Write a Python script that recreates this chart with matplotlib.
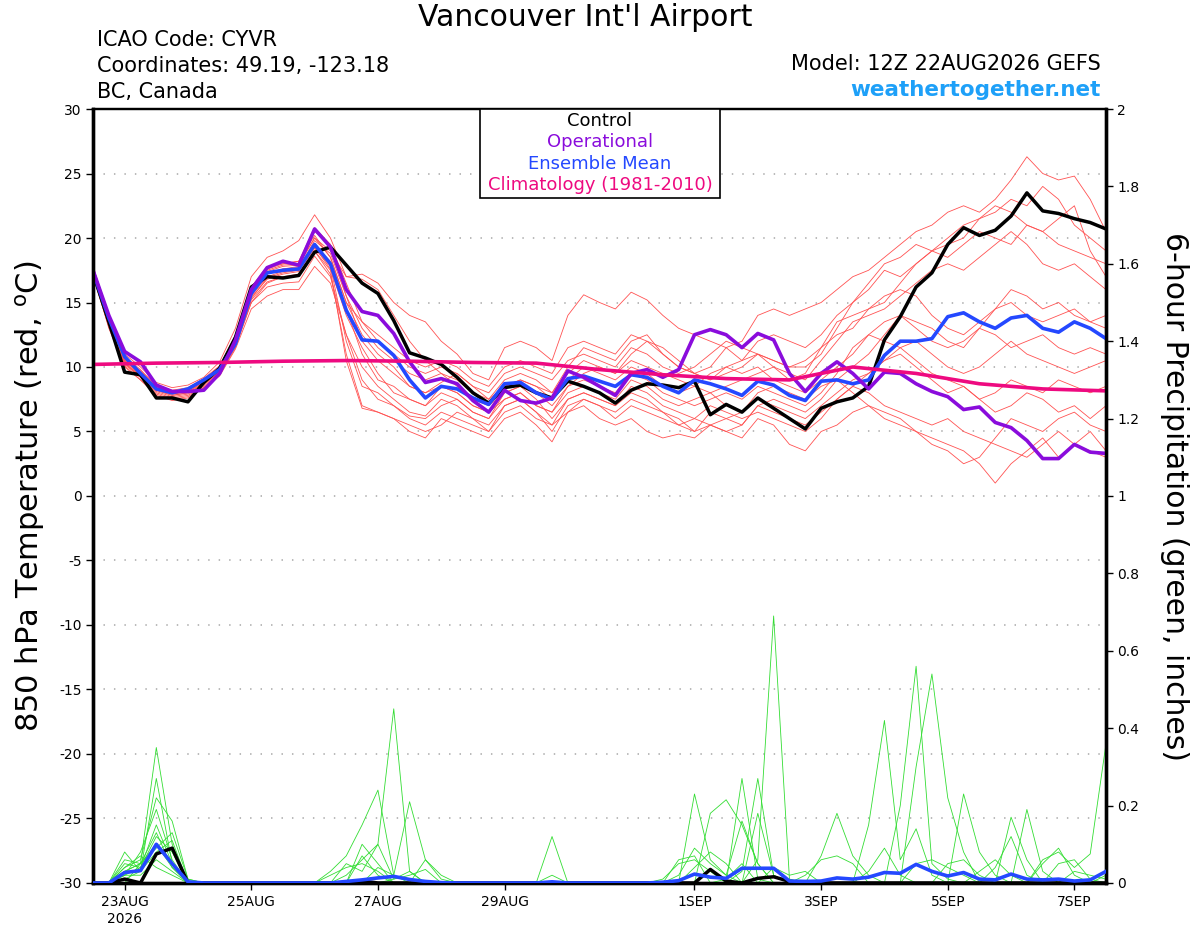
import numpy as np
import matplotlib
matplotlib.use('Agg')
import matplotlib.pyplot as plt
from matplotlib.patches import Rectangle

plt.rcParams['axes.unicode_minus'] = False

# forecast hours from 12Z 22AUG2026, every 6 hours out to 384 h
fhour = np.arange(0, 385, 6)

# 850 hPa temperature (C)
control_t = [17.3, 13.5, 9.6, 9.4, 7.6, 7.6, 7.3, 8.8, 9.9, 12.3, 16.2, 17.0, 16.9,
             17.1, 18.9, 19.3, 17.9, 16.5, 15.7, 13.6, 11.1, 10.7, 10.2, 9.2, 8.0, 7.2,
             8.4, 8.6, 8.0, 7.6, 8.9, 8.5, 8.0, 7.2, 8.2, 8.7, 8.6, 8.4, 8.9,
             6.3, 7.1, 6.5, 7.6, 6.8, 6.0, 5.2, 6.8, 7.3, 7.6, 8.5, 12.1, 13.9,
             16.2, 17.3, 19.5, 20.8, 20.2, 20.6, 21.7, 23.5, 22.1, 21.9, 21.5, 21.2, 20.7]
operational_t = [17.5, 14.0, 11.2, 10.4, 8.6, 8.1, 8.1, 8.2, 9.5, 12.1, 16.0, 17.7, 18.2,
                 17.9, 20.7, 19.3, 16.0, 14.3, 14.0, 12.6, 10.4, 8.8, 9.1, 8.7, 7.4, 6.5,
                 8.2, 7.4, 7.2, 7.6, 9.7, 9.2, 8.5, 7.8, 9.5, 9.8, 9.2, 9.8, 12.5,
                 12.9, 12.5, 11.5, 12.6, 12.1, 9.5, 8.1, 9.5, 10.4, 9.5, 8.3, 9.6, 9.5,
                 8.7, 8.1, 7.7, 6.7, 6.9, 5.7, 5.3, 4.3, 2.9, 2.9, 4.0, 3.4, 3.3]
ens_mean_t = [17.4, 13.8, 10.8, 9.5, 8.3, 8.0, 8.3, 9.0, 9.8, 11.8, 15.7, 17.3, 17.5,
              17.6, 19.5, 18.0, 14.4, 12.1, 12.0, 10.9, 9.0, 7.6, 8.5, 8.3, 7.6, 7.1,
              8.7, 8.8, 8.0, 7.5, 9.1, 9.3, 8.9, 8.5, 9.4, 9.2, 8.5, 8.0, 9.0,
              8.7, 8.3, 7.8, 8.9, 8.6, 7.8, 7.4, 8.9, 9.0, 8.7, 9.0, 10.9, 12.0,
              12.0, 12.2, 13.9, 14.2, 13.5, 13.0, 13.8, 14.0, 13.0, 12.7, 13.5, 13.0, 12.2]

# climatology, one value per day
clim_hour = np.arange(0, 385, 24)
clim_t = [10.2, 10.3, 10.35, 10.45, 10.5, 10.45, 10.35, 10.3, 9.8,
          9.4, 9.1, 9.0, 10.0, 9.5, 8.7, 8.3, 8.15]

# ensemble members, temperature
m01 = [17.8, 14.0, 11.0, 10.0, 8.8, 8.4, 8.6, 9.2, 10.4, 13.0, 17.0, 18.5, 19.0,
       19.8, 21.8, 20.0, 17.0, 17.2, 16.5, 15.0, 14.0, 13.5, 12.0, 11.0, 9.5, 9.0,
       11.5, 12.0, 11.5, 10.5, 14.0, 15.6, 15.0, 14.5, 15.8, 15.2, 14.0, 13.0, 12.5,
       12.0, 11.5, 12.0, 14.0, 14.5, 14.0, 14.5, 15.0, 16.0, 17.0, 17.5, 18.5, 19.5,
       20.5, 21.0, 22.0, 22.5, 22.0, 23.0, 24.5, 26.3, 25.0, 24.5, 24.8, 23.0, 20.5]
m02 = [17.2, 13.0, 10.0, 9.0, 7.8, 7.4, 7.6, 8.4, 9.4, 11.5, 15.0, 16.5, 17.0,
       17.0, 19.0, 17.5, 10.5, 6.8, 6.5, 6.0, 5.0, 4.5, 6.0, 5.5, 5.0, 4.5,
       6.0, 6.5, 5.5, 4.2, 6.5, 7.0, 6.0, 5.5, 6.0, 5.0, 4.5, 4.8, 4.5,
       5.5, 5.0, 4.5, 6.0, 5.5, 4.0, 3.5, 5.0, 5.5, 6.5, 7.0, 6.0, 5.5,
       5.0, 4.5, 4.0, 3.5, 2.5, 1.0, 2.5, 3.5, 4.5, 3.0, 4.0, 5.0, 3.5]
m03 = [17.5, 13.8, 10.8, 9.8, 8.5, 8.0, 8.3, 9.0, 10.0, 12.5, 16.2, 17.8, 18.0,
       18.2, 20.2, 18.5, 15.0, 12.5, 11.0, 10.0, 8.5, 8.0, 8.8, 9.5, 8.5, 7.5,
       9.0, 9.5, 9.0, 8.0, 10.0, 11.5, 11.0, 10.5, 12.0, 12.5, 11.0, 10.0, 9.5,
       10.0, 11.5, 10.5, 11.0, 10.0, 9.0, 9.5, 11.5, 13.5, 14.0, 14.5, 15.0, 16.5,
       18.0, 19.0, 20.0, 21.0, 21.5, 22.5, 22.0, 21.0, 20.5, 21.5, 22.5, 19.0, 17.0]
m04 = [17.3, 13.5, 10.4, 9.3, 8.2, 7.8, 8.0, 8.7, 9.6, 11.8, 15.4, 16.8, 17.2,
       17.4, 19.2, 17.8, 12.0, 8.5, 8.0, 7.0, 6.2, 6.0, 7.0, 7.5, 6.5, 6.0,
       7.5, 8.0, 7.0, 6.5, 8.0, 8.5, 8.0, 7.5, 9.0, 8.5, 7.5, 7.0, 7.5,
       8.0, 7.0, 6.5, 7.5, 7.0, 6.5, 6.0, 7.0, 8.0, 9.0, 9.5, 10.5, 11.0,
       10.0, 9.0, 8.0, 8.5, 7.5, 6.5, 7.0, 8.0, 7.5, 6.5, 7.0, 6.0, 7.0]
m05 = [17.6, 13.7, 10.6, 9.6, 8.4, 8.1, 8.2, 8.9, 9.9, 12.2, 15.8, 17.4, 17.8,
       17.9, 20.0, 19.0, 17.0, 16.8, 16.0, 14.0, 12.0, 10.5, 9.5, 9.0, 8.0, 7.5,
       8.5, 9.0, 8.5, 8.0, 9.5, 10.5, 10.0, 9.5, 11.0, 12.0, 11.5, 10.5, 9.5,
       9.0, 9.5, 10.0, 11.0, 10.5, 10.0, 10.0, 11.0, 13.0, 15.0, 16.0, 17.5, 17.0,
       18.0, 19.0, 19.5, 20.0, 21.5, 22.0, 23.0, 22.5, 24.0, 23.0, 21.0, 20.0, 19.0]
m06 = [17.0, 13.2, 10.2, 9.2, 8.0, 7.6, 7.8, 8.5, 9.5, 11.6, 15.2, 16.6, 17.0,
       17.2, 19.0, 17.2, 11.0, 7.0, 6.5, 6.0, 5.5, 5.0, 5.5, 6.5, 6.0, 5.0,
       7.0, 7.5, 6.5, 5.5, 7.5, 8.0, 7.5, 7.0, 8.0, 7.5, 6.5, 6.0, 5.0,
       6.5, 6.0, 5.5, 7.0, 6.5, 6.0, 5.5, 6.5, 7.5, 8.5, 8.0, 7.0, 6.5,
       6.0, 5.5, 6.0, 5.0, 4.5, 4.0, 3.5, 3.0, 4.0, 5.0, 4.0, 3.5, 3.0]
m07 = [17.4, 13.6, 10.5, 9.5, 8.3, 7.9, 8.1, 8.8, 9.8, 12.0, 15.6, 17.2, 17.6,
       17.7, 19.8, 18.8, 15.5, 13.0, 11.5, 10.5, 9.5, 9.0, 9.5, 8.5, 7.5, 7.0,
       8.0, 8.5, 8.0, 7.0, 8.5, 9.5, 10.0, 9.5, 10.5, 10.0, 9.5, 9.0, 8.5,
       8.0, 8.5, 9.0, 9.5, 10.0, 9.5, 9.0, 10.5, 12.0, 13.5, 14.0, 14.5, 15.5,
       16.5, 17.5, 18.0, 17.5, 18.5, 19.5, 20.5, 19.5, 18.0, 17.5, 18.0, 17.0, 16.0]
m08 = [17.2, 13.3, 10.3, 9.2, 8.1, 7.7, 7.9, 8.6, 9.6, 11.7, 15.0, 16.2, 16.5,
       16.6, 18.6, 17.0, 12.5, 10.0, 8.5, 7.5, 6.5, 6.2, 7.5, 7.0, 6.0, 5.5,
       7.0, 7.5, 6.5, 5.0, 7.0, 7.5, 7.0, 6.5, 7.5, 7.0, 6.5, 5.5, 6.0,
       7.0, 6.5, 6.0, 6.5, 6.0, 5.5, 5.0, 6.0, 7.5, 8.5, 9.5, 10.5, 11.5,
       12.0, 11.0, 10.0, 9.5, 10.0, 11.0, 12.0, 11.0, 10.5, 10.0, 9.5, 10.0, 10.5]
m09 = [17.5, 13.6, 10.6, 9.5, 8.4, 8.0, 8.2, 8.9, 9.9, 12.1, 15.7, 17.3, 17.6,
       17.8, 20.5, 19.5, 16.5, 13.5, 12.0, 11.0, 10.0, 9.5, 10.0, 9.5, 8.5, 8.0,
       9.5, 10.0, 9.5, 9.0, 10.5, 11.0, 10.5, 10.0, 11.5, 11.0, 10.0, 9.5, 10.0,
       11.0, 12.0, 11.5, 11.0, 10.5, 10.0, 10.5, 11.5, 12.5, 13.0, 14.5, 15.5, 16.0,
       15.5, 14.0, 13.0, 12.5, 13.5, 14.5, 15.0, 14.0, 13.5, 14.0, 14.5, 13.5, 13.0]
m10 = [17.3, 13.4, 10.3, 9.3, 8.2, 7.8, 8.0, 8.7, 9.7, 11.8, 15.3, 16.9, 17.3,
       17.5, 19.3, 17.6, 14.0, 11.5, 9.5, 8.0, 7.5, 7.0, 8.0, 7.5, 6.5, 6.0,
       8.0, 8.5, 7.5, 6.0, 7.5, 8.0, 7.5, 7.0, 8.5, 8.0, 7.0, 6.5, 6.0,
       5.5, 6.0, 6.5, 8.0, 8.5, 8.0, 7.5, 8.5, 9.0, 8.0, 7.0, 6.5, 6.0,
       5.0, 4.0, 3.5, 2.5, 3.0, 4.5, 6.0, 5.5, 5.0, 6.0, 6.5, 5.5, 5.0]
m11 = [17.6, 13.8, 10.7, 9.7, 8.6, 8.2, 8.4, 9.1, 10.1, 12.4, 16.0, 17.6, 18.0,
       18.2, 20.8, 19.5, 15.5, 12.0, 10.5, 9.5, 8.5, 8.0, 8.5, 8.0, 7.0, 6.5,
       8.5, 9.0, 8.5, 7.5, 9.0, 10.0, 9.5, 9.0, 10.0, 9.5, 8.5, 8.0, 8.5,
       9.5, 10.0, 9.5, 10.0, 9.0, 8.5, 8.0, 9.0, 10.0, 11.0, 12.5, 13.5, 14.0,
       13.0, 12.0, 11.5, 12.0, 13.0, 12.5, 11.5, 12.0, 12.5, 11.5, 11.0, 11.5, 11.0]
m12 = [17.4, 13.5, 10.5, 9.4, 8.3, 7.9, 8.1, 8.8, 9.8, 11.9, 15.5, 17.0, 17.4,
       17.5, 19.4, 18.2, 14.5, 11.0, 9.0, 8.5, 7.5, 7.0, 8.5, 8.0, 7.0, 6.5,
       7.5, 8.0, 7.0, 6.5, 8.5, 9.0, 8.5, 8.0, 9.5, 9.0, 8.0, 7.5, 7.0,
       7.5, 8.0, 7.5, 8.5, 8.0, 7.5, 7.0, 8.0, 9.5, 11.5, 12.5, 12.0, 11.5,
       10.5, 9.5, 9.0, 8.5, 7.5, 8.0, 9.0, 8.5, 8.0, 9.0, 8.5, 8.0, 8.5]
m13 = [17.1, 13.1, 10.1, 9.0, 7.9, 7.5, 7.7, 8.4, 9.3, 11.4, 14.5, 15.5, 16.0,
       16.0, 17.8, 16.5, 12.5, 9.0, 7.5, 7.0, 6.0, 5.5, 6.5, 6.0, 5.5, 5.0,
       6.5, 7.0, 6.0, 5.5, 6.5, 7.5, 7.0, 6.0, 7.0, 6.5, 6.0, 5.5, 5.0,
       5.5, 5.0, 5.5, 7.0, 7.5, 7.0, 6.5, 7.5, 9.0, 10.0, 11.0, 12.5, 14.0,
       13.5, 13.0, 12.0, 11.5, 13.0, 14.5, 16.0, 15.5, 14.5, 15.0, 14.0, 13.5, 14.0]
m14 = [17.5, 13.7, 10.7, 9.6, 8.5, 8.1, 8.3, 9.0, 10.0, 12.3, 16.0, 17.5, 17.9,
       18.0, 20.0, 18.5, 15.0, 13.5, 12.5, 11.5, 10.5, 10.0, 10.5, 10.0, 9.0, 8.5,
       10.0, 10.5, 10.0, 9.5, 11.5, 12.0, 11.5, 11.0, 12.5, 12.0, 11.0, 10.0, 9.5,
       9.0, 10.0, 10.5, 12.0, 12.5, 12.0, 11.5, 12.5, 14.0, 15.0, 16.5, 18.0, 18.5,
       19.5, 19.0, 18.5, 19.5, 20.5, 20.0, 19.5, 21.0, 20.5, 19.5, 19.0, 18.5, 18.0]
members_t = [m01, m02, m03, m04, m05, m06, m07, m08, m09, m10, m11, m12, m13, m14]

# 6-hour precipitation (inches)
control_p = [0, 0, 0.01, 0, 0.075, 0.09, 0, 0, 0, 0, 0, 0, 0,
             0, 0, 0, 0, 0.005, 0, 0, 0, 0, 0, 0, 0, 0,
             0, 0, 0, 0, 0, 0, 0, 0, 0, 0, 0, 0, 0,
             0.035, 0.005, 0, 0.012, 0.016, 0.004, 0, 0, 0, 0, 0, 0, 0,
             0, 0, 0, 0, 0, 0, 0, 0, 0, 0, 0, 0, 0]
ens_mean_p = [0, 0, 0.027, 0.032, 0.10, 0.05, 0.003, 0, 0, 0, 0, 0, 0,
              0, 0, 0, 0.004, 0.008, 0.013, 0.017, 0.009, 0.004, 0.001, 0, 0, 0,
              0, 0, 0, 0.003, 0, 0, 0, 0, 0, 0, 0.002, 0.006, 0.023,
              0.015, 0.012, 0.038, 0.038, 0.038, 0.005, 0.004, 0.005, 0.013, 0.01, 0.015, 0.027, 0.025,
              0.048, 0.03, 0.018, 0.027, 0.01, 0.008, 0.023, 0.01, 0.008, 0.01, 0.005, 0.008, 0.03]

g01 = [0, 0, .03, .05, .35, .10, 0, 0, 0, 0, 0, 0, 0,
       0, 0, 0, .02, .06, .10, .45, .03, 0, 0, 0, 0, 0,
       0, 0, 0, 0, 0, 0, 0, 0, 0, 0, 0, .02, .09,
       .05, .02, .16, .05, 0, 0, 0, 0, 0, 0, .15, .42, .06,
       .14, .02, 0, 0, 0, 0, 0, 0, 0, 0, 0, 0, 0]
g02 = [0, 0, .08, .03, .27, .05, 0, 0, 0, 0, 0, 0, 0,
       0, 0, .03, .07, .15, .24, .02, 0, 0, 0, 0, 0, 0,
       0, 0, 0, 0, 0, 0, 0, 0, 0, 0, 0, 0, .23,
       .06, .02, 0, 0, 0, 0, 0, 0, 0, 0, 0, 0, .20,
       .56, .05, .01, 0, 0, 0, 0, 0, 0, 0, 0, 0, 0]
g03 = [0, 0, .04, .06, .22, .16, .01, 0, 0, 0, 0, 0, 0,
       0, 0, 0, 0, 0, .04, .02, .21, .06, .02, 0, 0, 0,
       0, 0, 0, 0, 0, 0, 0, 0, 0, 0, 0, 0, 0,
       .18, .215, .15, .05, 0, 0, 0, 0, 0, 0, 0, 0, 0,
       .30, .54, .22, .08, 0, 0, 0, 0, 0, 0, 0, 0, 0]
g04 = [0, 0, .02, .08, .19, .06, 0, 0, 0, 0, 0, 0, 0,
       0, 0, 0, .05, .03, .10, .01, .02, .035, 0, 0, 0, 0,
       0, 0, 0, 0, 0, 0, 0, 0, 0, 0, 0, 0, 0,
       0, 0, .27, .01, 0, 0, 0, .07, .18, .07, .02, 0, 0,
       0, 0, 0, 0, 0, 0, 0, 0, 0, 0, 0, 0, 0]
g05 = [0, 0, .05, .04, .12, .08, 0, 0, 0, 0, 0, 0, 0,
       0, 0, 0, 0, .07, .02, 0, 0, 0, 0, 0, 0, 0,
       0, 0, 0, 0, 0, 0, 0, 0, 0, 0, 0, 0, 0,
       0, 0, .03, .27, .02, 0, 0, 0, 0, 0, 0, 0, 0,
       0, 0, 0, .23, .08, .02, 0, 0, 0, 0, 0, 0, 0]
g06 = [0, 0, .03, .05, .13, .04, 0, 0, 0, 0, 0, 0, 0,
       0, 0, 0, 0, 0, 0, 0, 0, 0, 0, 0, 0, 0,
       0, 0, 0, .12, 0, 0, 0, 0, 0, 0, 0, 0, 0,
       0, 0, 0, .18, .02, 0, 0, 0, 0, 0, 0, 0, 0,
       0, 0, 0, 0, 0, 0, .17, .06, 0, 0, 0, 0, 0]
g07 = [0, 0, .01, .03, .08, .11, 0, 0, 0, 0, 0, 0, 0,
       0, 0, 0, 0, 0, 0, 0, 0, 0, 0, 0, 0, 0,
       0, 0, 0, .02, 0, 0, 0, 0, 0, 0, 0, .06, .07,
       0, 0, 0, .06, .69, .01, 0, 0, 0, 0, 0, 0, 0,
       0, 0, 0, 0, 0, 0, 0, .19, .03, 0, 0, 0, 0]
g08 = [0, 0, .02, .02, .06, .03, 0, 0, 0, 0, 0, 0, 0,
       0, 0, 0, 0, 0, 0, 0, 0, .06, .01, 0, 0, 0,
       0, 0, 0, 0, 0, 0, 0, 0, 0, 0, .01, .05, .06,
       .03, 0, 0, 0, 0, 0, 0, 0, 0, 0, 0, 0, 0,
       0, 0, 0, 0, 0, 0, 0, 0, .06, .08, .04, .075, .36]
g09 = [0, 0, .04, .07, .04, .02, 0, 0, 0, 0, 0, 0, 0,
       0, 0, 0, 0, 0, 0, .01, .03, 0, 0, 0, 0, 0,
       0, 0, 0, 0, 0, 0, 0, 0, 0, 0, 0, 0, 0,
       0, .01, .05, 0, 0, 0, 0, 0, 0, 0, 0, 0, 0,
       0, 0, .05, .06, .02, 0, 0, 0, .05, .09, .02, 0, .02]
g10 = [0, 0, 0, .05, .10, .04, 0, 0, 0, 0, 0, 0, 0,
       0, 0, .02, .04, .05, .03, 0, 0, 0, 0, 0, 0, 0,
       0, 0, 0, 0, 0, 0, 0, 0, 0, 0, 0, 0, 0,
       0, 0, 0, 0, 0, 0, .02, .06, .07, .05, 0, 0, 0,
       0, 0, 0, 0, 0, .04, .12, .02, 0, 0, 0, 0, 0]
g11 = [0, 0, .06, .05, .09, .13, .01, 0, 0, 0, 0, 0, 0,
       0, 0, 0, 0, 0, 0, 0, 0, 0, 0, 0, 0, 0,
       0, 0, 0, 0, 0, 0, 0, 0, 0, 0, 0, 0, .04,
       .08, .05, 0, 0, 0, 0, 0, 0, 0, 0, .03, .09, .02,
       0, 0, 0, 0, .03, .06, .02, 0, 0, .05, .06, .01, 0]
g12 = [0, 0, .02, .04, .15, .05, 0, 0, 0, 0, 0, 0, 0,
       0, 0, 0, 0, .10, .05, 0, 0, 0, 0, 0, 0, 0,
       0, 0, 0, 0, 0, 0, 0, 0, 0, 0, 0, 0, 0,
       0, 0, 0, 0, .04, .02, .03, 0, 0, 0, 0, 0, 0,
       .05, .06, .04, .02, 0, 0, 0, 0, 0, 0, .03, .02, .01]
members_p = [g01, g02, g03, g04, g05, g06, g07, g08, g09, g10, g11, g12]

tick_hours = [12, 60, 108, 156, 228, 276, 324, 372]
tick_labels = ['23AUG\n2026', '25AUG', '27AUG', '29AUG', '1SEP', '3SEP', '5SEP', '7SEP']

c_red = '#ff5252'
c_green = '#33dd33'
c_purple = '#8a0cdc'
c_blue = '#2448ff'
c_pink = '#ee0a80'
c_link = '#1ea0f8'

fig = plt.figure(figsize=(12, 9.27), dpi=100)
ax = fig.add_axes([0.0775, 0.0475, 0.8442, 0.8349])
ax2 = ax.twinx()

# temperature panel
for m in members_t:
    ax.plot(fhour, m, color=c_red, lw=0.6, zorder=2)
ax.plot(fhour, control_t, color='black', lw=2.5, zorder=4)
ax.plot(fhour, ens_mean_t, color=c_blue, lw=2.6, zorder=5)
ax.plot(fhour, operational_t, color=c_purple, lw=2.6, zorder=6)
ax.plot(clim_hour, clim_t, color=c_pink, lw=2.6, zorder=7)

ax.set_xlim(0, 384)
ax.set_ylim(-30, 30)
ax.set_yticks(np.arange(-30, 31, 5))
for t in range(-25, 30, 5):
    ax.axhline(t, color='#b4b4b4', lw=1.3, dashes=(0.8, 5), zorder=1)
ax.set_xticks(tick_hours)
ax.set_xticklabels(tick_labels, fontsize=10, linespacing=1.25)
ax.tick_params(axis='x', direction='out', length=5, width=1, pad=4)
ax.tick_params(axis='y', direction='out', length=5, width=1, labelsize=10, pad=3)

# precipitation panel
for g in members_p:
    ax2.plot(fhour, g, color=c_green, lw=0.6, zorder=2)
ax2.plot(fhour, control_p, color='black', lw=2.5, zorder=4)
ax2.plot(fhour, ens_mean_p, color=c_blue, lw=2.6, zorder=5)
ax2.set_ylim(0, 2)
ax2.set_yticks(np.arange(0, 2.01, 0.2))
ax2.set_yticklabels(['0', '0.2', '0.4', '0.6', '0.8', '1', '1.2', '1.4', '1.6', '1.8', '2'])
ax2.tick_params(axis='y', direction='out', length=5, width=1, labelsize=10, pad=3)

for a in (ax, ax2):
    a.spines['left'].set_linewidth(2.4)
    a.spines['right'].set_linewidth(2.4)
    a.spines['bottom'].set_linewidth(2.4)
    a.spines['top'].set_linewidth(1.6)

# legend box
ax2.add_patch(Rectangle((0.382, 0.885), 0.237, 0.115, transform=ax2.transAxes,
                        facecolor='white', edgecolor='black', lw=1.2, zorder=10,
                        clip_on=False))
legend_rows = [('Control', 'black'), ('Operational', c_purple),
               ('Ensemble Mean', c_blue), ('Climatology (1981-2010)', c_pink)]
for k, (txt, col) in enumerate(legend_rows):
    ax2.text(0.5005, 0.9845 - k * 0.0275, txt, color=col, fontsize=13,
             ha='center', va='center', transform=ax2.transAxes, zorder=11)

# header text
fig.text(585 / 1200, 1 - 18 / 927, "Vancouver Int'l Airport", fontsize=21.5,
         ha='center', va='center')
fig.text(97 / 1200, 1 - 40 / 927, 'ICAO Code: CYVR', fontsize=15, va='center')
fig.text(97 / 1200, 1 - 66 / 927, 'Coordinates: 49.19, -123.18', fontsize=15, va='center')
fig.text(97 / 1200, 1 - 92 / 927, 'BC, Canada', fontsize=15, va='center')
fig.text(1101 / 1200, 1 - 64 / 927, 'Model: 12Z 22AUG2026 GEFS', fontsize=15,
         ha='right', va='center')
fig.text(1101 / 1200, 1 - 90 / 927, 'weathertogether.net', fontsize=15.5,
         fontweight='bold', color=c_link, ha='right', va='center')

fig.text(30 / 1200, 1 - 496 / 927, '850 hPa Temperature (red, $^{\\rm o}$C)',
         fontsize=22, rotation=90, ha='center', va='center')
fig.text(1175 / 1200, 1 - 497 / 927, '6-hour Precipitation (green, inches)',
         fontsize=21.5, rotation=270, ha='center', va='center')

fig.savefig('out.png', dpi=100)
